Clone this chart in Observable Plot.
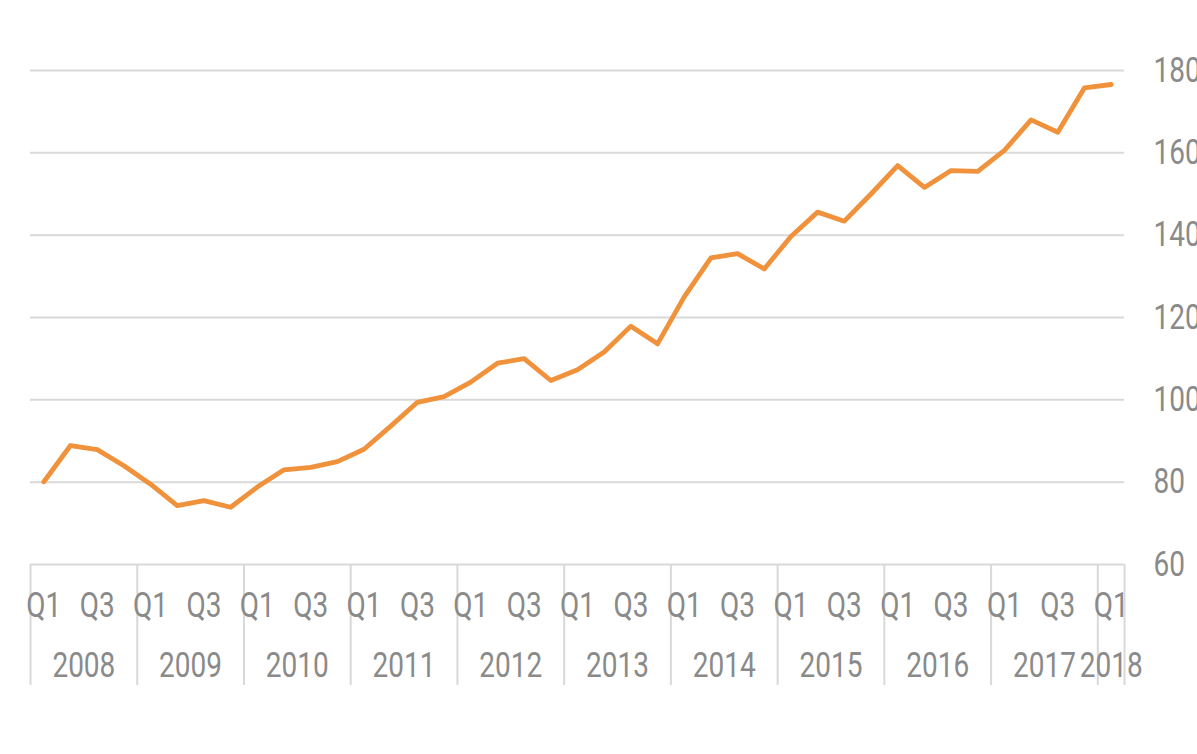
<!DOCTYPE html>
<html>
<head>
<meta charset="utf-8">
<script src="https://cdn.jsdelivr.net/npm/d3@7"></script>
<script src="https://cdn.jsdelivr.net/npm/@observablehq/plot@0.6"></script>
<style>
  html, body { margin: 0; padding: 0; background: #ffffff; }
  #chart svg { display: block; }
</style>
</head>
<body>
<div id="chart"></div>
<script>
// ---- Data ----
const years = [2008, 2009, 2010, 2011, 2012, 2013, 2014, 2015, 2016, 2017, 2018];
const quarterNames = ["Q1", "Q2", "Q3", "Q4"];
const shownQuarters = ["Q1", "Q3"];
const values = [
  80.1, 88.9, 87.9, 84.0,    // 2008
  79.5, 74.3, 75.5, 73.9,    // 2009
  78.8, 83.0, 83.6, 85.0,    // 2010
  88.0, 93.6, 99.4, 100.8,   // 2011
  104.3, 108.9, 110.0, 104.7,// 2012
  107.3, 111.6, 117.9, 113.6,// 2013
  125.0, 134.5, 135.5, 131.8,// 2014
  139.7, 145.6, 143.4, 150.0,// 2015
  156.9, 151.6, 155.7, 155.5,// 2016
  160.6, 168.0, 165.0, 175.8,// 2017
  176.6                      // 2018
];
const yTicks = [60, 80, 100, 120, 140, 160, 180];

// ---- Derived tables ----
const periods = values.map((v, i) => {
  const year = years[0] + Math.floor(i / 4);
  const qi = i % 4;
  return {year, quarter: quarterNames[qi], t: year + qi / 4 + 0.125, value: v};
});
const yearInfo = years.map(y => {
  const n = periods.filter(p => p.year === y).length;
  return {year: y, n, center: y + n / 8, end: y + n / 4};
});
const separators = [...years, yearInfo[yearInfo.length - 1].end];
const qLabels = periods.filter(p => shownQuarters.includes(p.quarter));

const textColor = "#8a8a8a";
const gridColor = "#d9d9d9";

const chart = Plot.plot({
  width: 1197,
  height: 754,
  marginLeft: 30,
  marginRight: 73,
  marginTop: 70,
  marginBottom: 190,
  style: {fontFamily: "Roboto, 'Noto Sans', sans-serif", fontSize: "35px", background: "#ffffff"},
  x: {domain: [years[0], yearInfo[yearInfo.length - 1].end], axis: null},
  y: {domain: [60, 180], axis: null},
  marks: [
    Plot.ruleY(yTicks, {y: d => d, stroke: gridColor, strokeWidth: 2}),
    Plot.ruleX(separators, {x: d => d, stroke: gridColor, strokeWidth: 2, insetTop: 494, insetBottom: -121}),
    Plot.line(periods, {x: "t", y: "value", stroke: "#f0913b", strokeWidth: 4.8, strokeLinejoin: "round", strokeLinecap: "round"}),
    Plot.text(yTicks, {y: d => d, text: d => String(d), frameAnchor: "right", dx: 29, textAnchor: "start", fill: textColor, fontSize: 35, className: "lbl"}),
    Plot.text(qLabels, {x: "t", text: "quarter", frameAnchor: "bottom", lineAnchor: "middle", dy: 41, fill: textColor, fontSize: 35, className: "lbl"}),
    Plot.text(yearInfo, {x: "center", text: d => String(d.year), frameAnchor: "bottom", lineAnchor: "middle", dy: 101, fill: textColor, fontSize: 35, className: "lbl"})
  ]
});

// Horizontally condense labels to match the reference's tall, narrow glyphs
chart.querySelectorAll(".lbl text").forEach(t => {
  const x = +t.getAttribute("x") || 0, y = +t.getAttribute("y") || 0;
  const tr = t.getAttribute("transform") || "";
  t.setAttribute("transform", `${tr} translate(${x},${y}) scale(0.8,1) translate(${-x},${-y})`);
});

document.getElementById("chart").appendChild(chart);
</script>
</body>
</html>
